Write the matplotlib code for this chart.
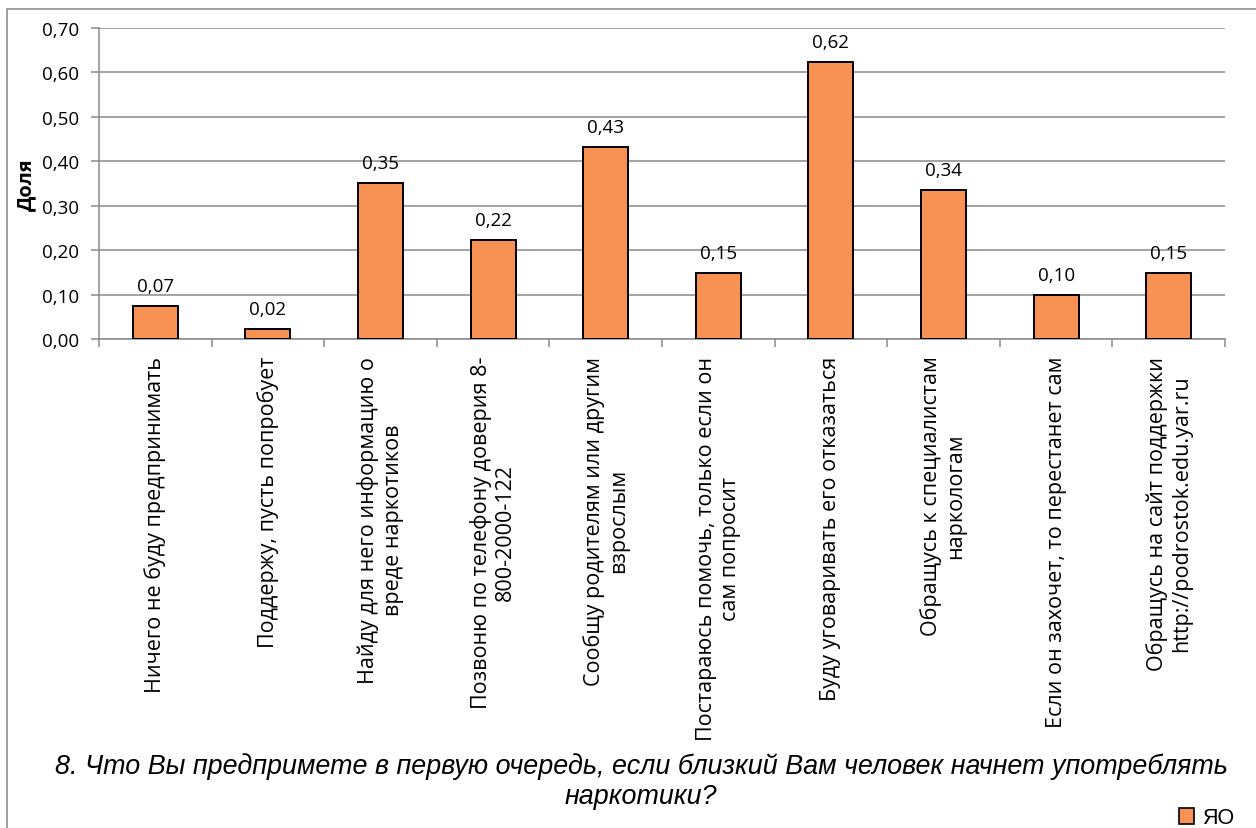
import matplotlib
matplotlib.use("Agg")
import matplotlib.pyplot as plt
from matplotlib.patches import Rectangle, Patch

categories = [
    "Ничего не буду предпринимать",
    "Поддержу, пусть попробует",
    "Найду для него информацию о\nвреде наркотиков",
    "Позвоню по телефону доверия 8-\n800-2000-122",
    "Сообщу родителям или другим\nвзрослым",
    "Постараюсь помочь, только если он\nсам попросит",
    "Буду уговаривать его отказаться",
    "Обращусь к специалистам\nнаркологам",
    "Если он захочет, то перестанет сам",
    "Обращусь на сайт поддержки\nhttp://podrostok.edu.yar.ru",
]
values = [0.074, 0.022, 0.351, 0.222, 0.432, 0.148, 0.624, 0.336, 0.099, 0.148]
yticks = [0.0, 0.1, 0.2, 0.3, 0.4, 0.5, 0.6, 0.7]
series_name = "ЯО"
title_lines = ["8. Что Вы предпримете в первую очередь, если близкий Вам человек начнет употреблять",
               "наркотики?"]

W, H = 1256, 829
fig = plt.figure(figsize=(W / 100, H / 100), dpi=100)
fig.patch.set_facecolor("white")

# outer chart border (cropped on right/bottom)
fig.add_artist(Rectangle((7 / W, -0.1), 1.2, 1 - 10 / H + 0.1, transform=fig.transFigure,
                         fill=False, edgecolor="#8c8c8c", linewidth=1.2))

ax = fig.add_axes([99 / W, 1 - 340 / H, (1225 - 99) / W, (340 - 29) / H])
tick_font = "Open Sans"
gray = "#8a8a8a"

x = list(range(len(categories)))
bars = ax.bar(x, values, width=0.4, color="#F79254", edgecolor="black", linewidth=1.4, zorder=3)

for xi, v in zip(x, values):
    ax.annotate(f"{v:.2f}".replace(".", ","), (xi, v), xytext=(0, 8), textcoords="offset points",
                ha="center", va="bottom", fontsize=13.5, family=tick_font)

ax.set_xlim(-0.5, len(categories) - 0.5)
ax.set_ylim(0, 0.7)
ax.set_yticks(yticks)
ax.set_yticklabels([f"{t:.2f}".replace(".", ",") for t in yticks], fontsize=13.5, family=tick_font)
ax.yaxis.grid(True, color=gray, linewidth=1.1, zorder=0)
ax.set_axisbelow(True)

ax.set_xticks(x)
ax.set_xticklabels(categories, rotation=90, ha="center", va="top", multialignment="center",
                   fontsize=15.5, family=tick_font, linespacing=1.2)
ax.set_xticks([i - 0.5 for i in range(len(categories) + 1)], minor=True)
ax.tick_params(axis="x", which="major", length=0, pad=12)
ax.tick_params(axis="x", which="minor", length=6, color=gray, width=1.1)
ax.tick_params(axis="y", length=6, color=gray, width=1.1, pad=8.5)

for s in ["top", "right"]:
    ax.spines[s].set_visible(False)
for s in ["left", "bottom"]:
    ax.spines[s].set_color(gray)
    ax.spines[s].set_linewidth(1.1)

ax.set_ylabel("Доля", fontsize=14.5, fontweight="bold", family=tick_font)
ax.yaxis.set_label_coords(-63 / (1225 - 99), 0.5)

for line, ypix in zip(title_lines, [767, 797]):
    fig.text(641 / W, 1 - ypix / H, line, ha="center", va="center", fontsize=19.4, style="italic",
             family="Liberation Sans")

handle = Patch(facecolor="#F79254", edgecolor="black", linewidth=1.2)
fig.legend([handle], [series_name], loc="center", bbox_to_anchor=(1207 / W, 1 - 819 / H),
           frameon=False, prop={"family": "Liberation Sans", "size": 15.5},
           handlelength=0.7, handleheight=0.7, handletextpad=0.4, borderpad=0)

fig.savefig("out.png", dpi=100)
